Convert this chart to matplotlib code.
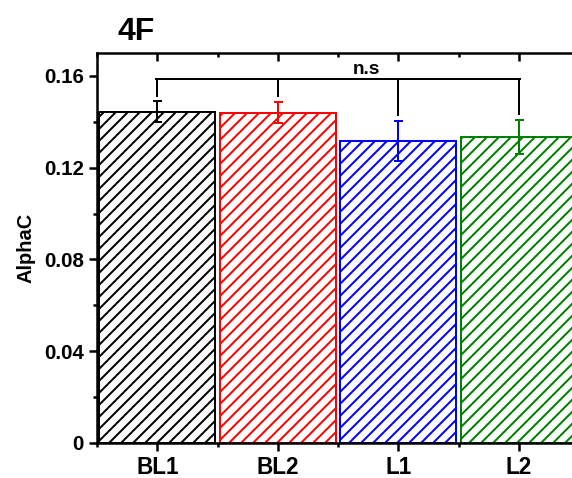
import matplotlib

matplotlib.use("Agg")
import matplotlib.pyplot as plt
from matplotlib.ticker import FuncFormatter, MultipleLocator

# --- data
groups = ["BL1", "BL2", "L1", "L2"]
alpha_c = [0.1445, 0.1440, 0.1318, 0.1333]
alpha_c_err = [0.0045, 0.0047, 0.0087, 0.0075]
colors = ["#000000", "#ff0000", "#0000ff", "#008000"]
bracket_level = 0.1587
panel_label = "4F"
sig_label = "n.s"

plt.rcParams["font.family"] = ["Liberation Sans", "DejaVu Sans"]
plt.rcParams["font.weight"] = "bold"
plt.rcParams["hatch.linewidth"] = 2.0

DPI = 72
fig = plt.figure(figsize=(572 / DPI, 478 / DPI), dpi=DPI)
# right edge of the frame runs past the canvas on purpose
ax = fig.add_axes([97 / 572, 35 / 478, 482 / 572, 390 / 478])

x = list(range(len(groups)))
for i, (v, c) in enumerate(zip(alpha_c, colors)):
    ax.bar(i, v, width=0.96, facecolor="white", edgecolor=c, linewidth=2, hatch="//", zorder=2)
    ax.errorbar(i, v, yerr=alpha_c_err[i], fmt="none", ecolor=c, elinewidth=2,
                capsize=4.5, capthick=2, zorder=3)

# significance bracket across all groups
for i in x:
    tip = alpha_c[i] + alpha_c_err[i] + 0.002
    ax.plot([i, i], [tip, bracket_level], color="black", lw=2, zorder=4, solid_capstyle="butt")
ax.plot([x[0] - 0.01, x[-1] + 0.01], [bracket_level, bracket_level], color="black", lw=2, zorder=4)
ax.text(1.74, bracket_level + 0.0006, sig_label, ha="center", va="bottom", fontsize=19, fontweight="bold")

ax.set_xlim(-0.5, len(groups) - 0.5)
ax.set_ylim(0, 0.17)
ax.set_xticks(x)
ax.set_xticklabels(groups)
ax.xaxis.set_minor_locator(MultipleLocator(1, offset=0.5))
ax.yaxis.set_major_locator(MultipleLocator(0.04))
ax.yaxis.set_minor_locator(MultipleLocator(0.02))
ax.yaxis.set_major_formatter(FuncFormatter(lambda v, _: "0" if abs(v) < 1e-9 else f"{v:.2f}"))

for sp in ax.spines.values():
    sp.set_linewidth(2.5)

ax.tick_params(axis="both", which="major", length=8, width=2.5, direction="out")
ax.tick_params(axis="both", which="minor", length=4, width=2.5, direction="out")
ax.tick_params(axis="x", which="both", top=True, labeltop=False)
ax.tick_params(axis="x", which="major", labelsize=22.5, pad=5)
ax.tick_params(axis="y", which="major", labelsize=20.5, pad=5)
# ticks on the top spine point inward
for t in ax.xaxis.get_major_ticks() + ax.xaxis.get_minor_ticks():
    t.tick2line.set_marker(matplotlib.lines.TICKDOWN)

ax.set_ylabel("AlphaC", fontsize=20, fontweight="bold", labelpad=9)

fig.text(118 / 572, 1 - 40 / 478, panel_label, fontsize=32, fontweight="bold", va="baseline", ha="left")

fig.savefig("out.png", dpi=DPI)
